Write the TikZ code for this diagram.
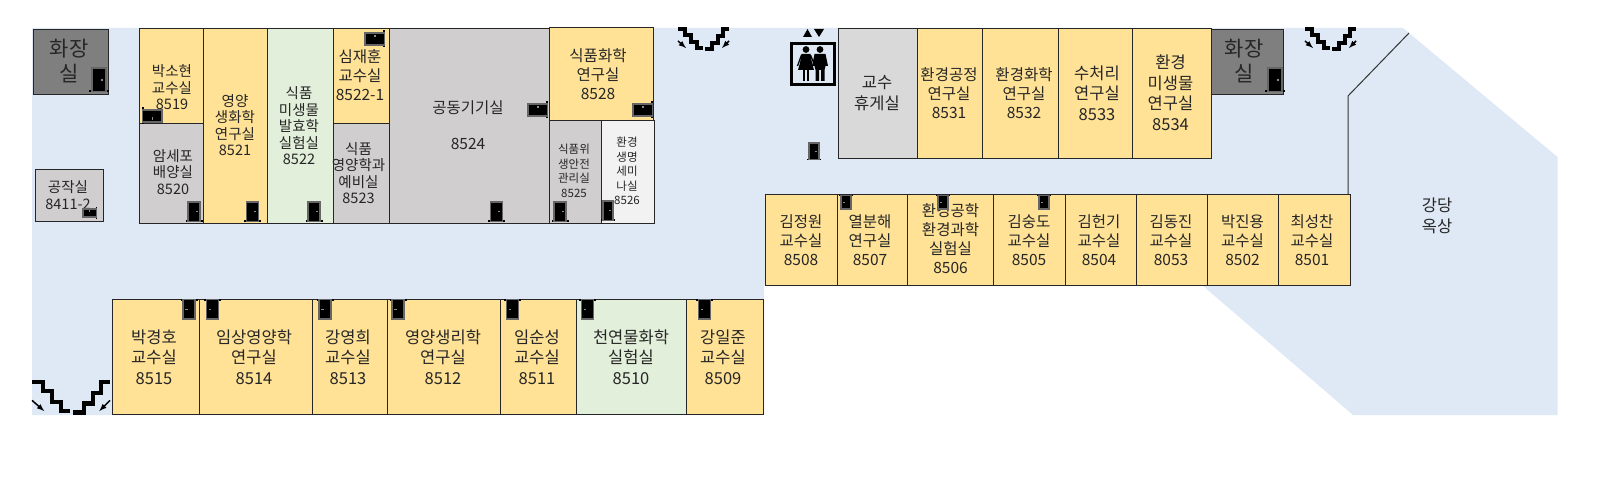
\documentclass[tikz,border=0pt]{standalone}
\usepackage{fontspec}
\setmainfont{Noto Sans CJK KR}
\usepackage{tikz}

\tikzset{
	pics/door_icon/.style={code={
		\fill[black] (-8.5,0) rectangle (8.5,-1.6);
		\filldraw[draw=black!60,fill=black,line width=1.5pt] (-6,-.5) rectangle (6,-20);
		\fill[black!45] (1.5,-9.5) rectangle (3.7,-11);
	}},
	pics/stairs_icon/.style={code={
		\draw[line width=#1,black] (0,0) -- (7,0) -- (7,6) -- (13,6) -- (13,13) -- (19,13) -- (19,19) -- (25,19);
		\draw[line width=#1,black] (27,20) -- (34,20) -- (34,14) -- (40,14) -- (40,7) -- (45,7) -- (45,0) -- (51,0);
		\draw[line width=1.5pt,black,-latex] (0,12) -- (8,19);
		\draw[line width=1.5pt,black,-latex] (51,12) -- (44,19);
	}},
}

\begin{document}
\begin{tikzpicture}[x=1pt, y=-1pt,
		room_style/.style={draw=black!85,line width=.95pt},
		yellow_room/.style={room_style,fill=roomyellow},
		gray_room/.style={room_style,fill=roomgray},
		green_room/.style={room_style,fill=roomgreen},
		dark_room/.style={room_style,fill=roomdark},
		text_style/.style={align=center,inner sep=0pt,text=black!85},
		label_big/.style={text_style,font=\fontsize{21}{25}\selectfont},
		label_17/.style={text_style,font=\fontsize{16.5}{20.5}\selectfont},
		label_16/.style={text_style,font=\fontsize{15.5}{19}\selectfont},
		label_14/.style={text_style,font=\fontsize{14.5}{16.5}\selectfont},
		label_11/.style={text_style,font=\fontsize{11.5}{14.5}\selectfont}]

		\useasboundingbox (0,0) rectangle (1611,494);
		\definecolor{floorblue}{HTML}{DEE9F5}
		\definecolor{roomyellow}{HTML}{FFE296}
		\definecolor{roomgray}{HTML}{D0CECE}
		\definecolor{roomgreen}{HTML}{E2EFDA}
		\definecolor{roomdark}{HTML}{7F7F7F}

		\fill[floorblue] (32,28) -- (1403,28) -- (1557.5,157) -- (1557.5,415) -- (1353,415) -- (1202,285) -- (764,285) -- (764,415) -- (32,415) -- cycle;
		\draw[black!80,line width=1pt] (1409,33) -- (1348,96) -- (1348,195);

		\draw[dark_room] (33,29) rectangle (108,94);
		\draw[dark_room] (1211,29) rectangle (1283,94);
		\draw[gray_room] (35,169) rectangle (103,221);

		\draw[yellow_room] (139,28) rectangle (203,123);
		\draw[gray_room] (139,123) rectangle (203,223);
		\draw[yellow_room] (203,28) rectangle (267,223);
		\draw[green_room] (267,28) rectangle (333,223);
		\draw[yellow_room] (333,28) rectangle (389,123);
		\draw[gray_room] (333,123) rectangle (389,223);
		\draw[gray_room] (389,28) rectangle (549,223);
		\draw[yellow_room] (549,27) rectangle (653,120);
		\draw[gray_room] (549,120) rectangle (601,223);
		\draw[room_style,fill=black!5] (601,120) rectangle (654,223);

		\draw[room_style,fill=black!15] (838,28) rectangle (917,158);
		\draw[yellow_room] (917,28) rectangle (982,158);
		\draw[yellow_room] (982,28) rectangle (1058,158);
		\draw[yellow_room] (1058,28) rectangle (1132,158);
		\draw[yellow_room] (1132,28) rectangle (1211,158);

		\draw[yellow_room] (765,194.5) rectangle (837,285);
		\draw[yellow_room] (837,194.5) rectangle (907,285);
		\draw[yellow_room] (907,194.5) rectangle (993,285);
		\draw[yellow_room] (993,194.5) rectangle (1065,285);
		\draw[yellow_room] (1065,194.5) rectangle (1136,285);
		\draw[yellow_room] (1136,194.5) rectangle (1207,285);
		\draw[yellow_room] (1207,194.5) rectangle (1278,285);
		\draw[yellow_room] (1278,194.5) rectangle (1350,285);

		\draw[yellow_room] (112,299) rectangle (199,414);
		\draw[yellow_room] (199,299) rectangle (312,414);
		\draw[yellow_room] (312,299) rectangle (387,414);
		\draw[yellow_room] (387,299) rectangle (500,414);
		\draw[yellow_room] (500,299) rectangle (576,414);
		\draw[green_room] (576,299) rectangle (686,414);
		\draw[yellow_room] (686,299) rectangle (763,414);

		\node[label_big] (wc1) at (69,61) {화장\\실};
		\node[label_big] (wc2) at (1244,61) {화장\\실};
		\node[label_14] (r8411) at (68,195) {공작실\\8411-2};
		\node[label_14] (r8519) at (172,87.5) {박소현\\교수실\\8519};
		\node[label_14] (r8520) at (173,172) {암세포\\배양실\\8520};
		\node[label_14] (r8521) at (235,125) {영양\\생화학\\연구실\\8521};
		\node[label_14] (r8522) at (299,126) {식품\\미생물\\발효학\\실험실\\8522};
		\node[label_16] (r85221) at (360,75) {심재훈\\교수실\\8522-1};
		\node[label_14] (r8523) at (358.5,173) {식품\\영양학과\\예비실\\8523};
		\node[label_16] (r8524) at (468,125) {공동기기실\\[17pt]8524};
		\node[label_16] (r8528) at (598,74) {식품화학\\연구실\\8528};
		\node[label_11] (r8525) at (574,171) {식품위\\생안전\\관리실\\8525};
		\node[label_11] (r8526) at (627,171) {환경\\생명\\세미\\나실\\8526};

		\node[label_17] (lounge) at (877,93) {교수\\휴게실};
		\node[label_16] (r8531) at (949,93) {환경공정\\연구실\\8531};
		\node[label_16] (r8532) at (1024,93) {환경화학\\연구실\\8532};
		\node[label_17] (r8533) at (1097,93) {수처리\\연구실\\8533};
		\node[label_17] (r8534) at (1170.5,93) {환경\\미생물\\연구실\\8534};

		\node[label_16] (r8508) at (801,240) {김정원\\교수실\\8508};
		\node[label_16] (r8507) at (870,240) {열분해\\연구실\\8507};
		\node[label_16] (r8506) at (950.5,239) {환경공학\\환경과학\\실험실\\8506};
		\node[label_16] (r8505) at (1029,240) {김숭도\\교수실\\8505};
		\node[label_16] (r8504) at (1099,240) {김헌기\\교수실\\8504};
		\node[label_16] (r8053) at (1171,240) {김동진\\교수실\\8053};
		\node[label_16] (r8502) at (1242.5,240) {박진용\\교수실\\8502};
		\node[label_16] (r8501) at (1312,240) {최성찬\\교수실\\8501};
		\node[label_17] (roof) at (1437,216) {강당\\옥상};

		\node[label_17] (r8515) at (154,357) {박경호\\교수실\\8515};
		\node[label_17] (r8514) at (254,357) {임상영양학\\연구실\\8514};
		\node[label_17] (r8513) at (348,357) {강영희\\교수실\\8513};
		\node[label_17] (r8512) at (443,357) {영양생리학\\연구실\\8512};
		\node[label_17] (r8511) at (537,357) {임순성\\교수실\\8511};
		\node[label_17] (r8510) at (631,357) {천연물화학\\실험실\\8510};
		\node[label_17] (r8509) at (723,357) {강일준\\교수실\\8509};

		\pic[scale=1.2] (d1) at (99,92) {door_icon};
		\pic[scale=1.2] (d2) at (1275,92) {door_icon};
		\pic[rotate=90,scale=.7] (d3) at (97,213) {door_icon};
		\pic[rotate=-90] (d4) at (142,116) {door_icon};
		\pic (d5) at (194,222) {door_icon};
		\pic (d6) at (252.5,222) {door_icon};
		\pic (d7) at (314,222) {door_icon};
		\pic[rotate=90] (d8) at (385,39) {door_icon};
		\pic[rotate=90] (d9) at (548,110) {door_icon};
		\pic[rotate=90] (d10) at (653,110) {door_icon};
		\pic (d11) at (496.5,222) {door_icon};
		\pic (d12) at (560,222) {door_icon};
		\pic[xscale=.8] (d13) at (608,221) {door_icon};
		\pic[scale=.85] (d14) at (814,160) {door_icon};

		\pic[rotate=180,xscale=.8,yscale=.7] (d15) at (846,195) {door_icon};
		\pic[rotate=180,xscale=.8,yscale=.7] (d16) at (943,195) {door_icon};
		\pic[rotate=180,xscale=.8,yscale=.7] (d17) at (1044,195) {door_icon};

		\pic[rotate=180] (d18) at (189,299) {door_icon};
		\pic[rotate=180] (d19) at (212.5,299) {door_icon};
		\pic[rotate=180] (d20) at (325,299) {door_icon};
		\pic[rotate=180] (d21) at (398,299) {door_icon};
		\pic[rotate=180] (d22) at (512.5,299) {door_icon};
		\pic[rotate=180] (d23) at (587.5,299) {door_icon};
		\pic[rotate=180] (d24) at (704.5,299) {door_icon};

		\pic (s1) at (678,29) {stairs_icon=3.2pt};
		\pic (s2) at (1305,29) {stairs_icon=3.2pt};
		\pic[scale=1.53] (s3) at (32,382) {stairs_icon=4.4pt};

		\draw[black,line width=3.6pt] (791.5,43.5) rectangle (834.5,84.5);
		\fill[black] (803,37) -- (812,37) -- (807.5,29) -- cycle;
		\fill[black] (814,29) -- (824,29) -- (819,37) -- cycle;
		\fill[black] (806,49.5) circle (3.4);
		\fill[black] (820,49.5) circle (3.4);
		\fill[black] (801.5,54) -- (810.5,54) -- (812,63) -- (814,70) -- (798,70) -- (800,63) -- cycle;
		\fill[black] (803,70) rectangle (805.3,81);
		\fill[black] (806.8,70) rectangle (809,81);
		\fill[black] (814.5,54) -- (825.5,54) -- (828,66) -- (825.5,66) -- (824.5,70) -- (824.5,81) -- (821,81) -- (821,70) -- (819,70) -- (819,81) -- (815.5,81) -- (815.5,70) -- (814.5,66) -- (812,66) -- cycle;
		\draw[black,line width=1.3pt] (801.5,55) -- (797.5,66);
		\draw[black,line width=1.3pt] (810.5,55) -- (815,66);

\end{tikzpicture}
\end{document}
